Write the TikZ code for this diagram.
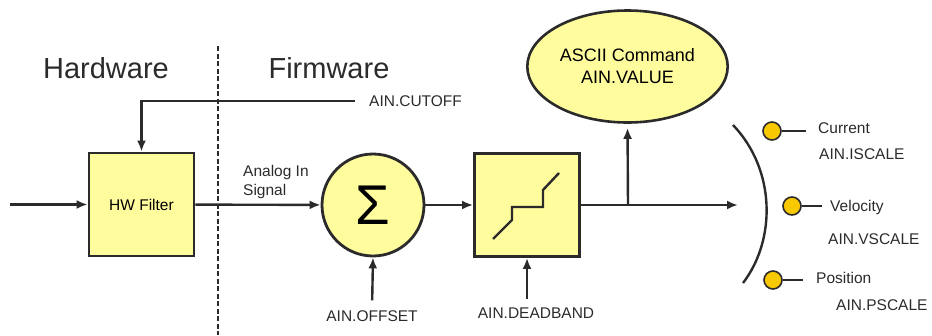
\documentclass[tikz,border=0pt]{standalone}
\usepackage{fontspec}
\setmainfont{Liberation Sans}
\usepackage{xcolor}
\usetikzlibrary{arrows.meta, positioning, calc, shapes.geometric}
\definecolor{boxfill}{HTML}{FFFC9E}
\definecolor{dotfill}{HTML}{F8C800}
\definecolor{linegray}{HTML}{2B2B2B}

\begin{document}
\begin{tikzpicture}[x=1pt, y=-1pt, line width=2.4pt, draw=linegray,
    >={Latex[length=11pt,width=9pt]},
    block/.style={rectangle, draw=linegray, fill=boxfill, line width=2.8pt,
        minimum width=105pt, minimum height=103pt, font=\fontsize{15.5}{18}\selectfont},
    sumnode/.style={circle, draw=linegray, fill=boxfill, line width=2.8pt,
        minimum size=102pt, inner sep=0pt},
    cmdnode/.style={ellipse, draw=linegray, fill=boxfill, line width=2.6pt,
        minimum width=180pt, minimum height=112pt, align=center,
        font=\fontsize{18}{22}\selectfont},
    lbl/.style={inner sep=0pt, text=linegray, font=\fontsize{15.5}{19}\selectfont},
    heading/.style={inner sep=0pt, text=linegray, font=\fontsize{29}{32}\selectfont},
    contact/.style={circle, draw=linegray, fill=dotfill, line width=1.6pt,
        minimum size=18pt, inner sep=0pt}]
    \useasboundingbox (0,0) rectangle (932,335);

    % hardware / firmware split
    \node[heading] (hwhead) at (106,68) {Hardware};
    \node[heading] (fwhead) at (329,68) {Firmware};
    \coordinate (divtop) at (218,46);
    \coordinate (divbot) at (218,335);
    \draw[line width=2.6pt, dash pattern=on 5pt off 2.5pt] (divtop) -- (divbot);

    % signal chain
    \coordinate (in) at (10,204.5);
    \node[block] (hwf) at (141.5,204.5) {HW Filter};
    \node[sumnode] (sum) at (373,205) {\fontsize{56}{56}\selectfont Σ};
    \node[block] (dead) at (527,205) {};
    \node[cmdnode] (ascii) at (627.5,66.5) {ASCII Command\\AIN.VALUE};
    \coordinate (tap) at (628,205);
    \coordinate (out) at (738,205);

    \draw[->] (in) -- (hwf);
    \draw[->] (hwf) -- (sum);
    \draw[->] (sum) -- (dead);
    \draw[->] (dead) -- (out);
    \draw[->, shorten >=4pt] (tap) -- (ascii.south);

    % deadband characteristic
    \draw[line width=2.4pt] ($(dead)+(-34,34)$) -- ($(dead)+(-15,15)$)
        -- ($(dead)+(-15,2)$) -- ($(dead)+(16,2)$) -- ($(dead)+(16,-15)$)
        -- ($(dead)+(32,-32)$);

    % parameters
    \node[lbl, anchor=west] (cutoff) at (368,101) {AIN.CUTOFF};
    \draw[->, shorten <=13pt] (cutoff.west) -| (hwf.north);
    \node[lbl, anchor=north west, align=left] (analog) at (242,164) {Analog In\\Signal};
    \node[lbl] (offset) at (372,316) {AIN.OFFSET};
    \draw[->, shorten <=9pt] (offset.north) -- (sum.south);
    \node[lbl] (deadband) at (536,313) {AIN.DEADBAND};
    \draw[->, shorten <=7pt] (deadband.north -| dead.south) -- (dead.south);

    % scaling selector
    \draw[line width=2.4pt] (733,125) .. controls (776,170) and (776,240) .. (743,283);

    \node[contact] (cur) at (772,131) {};
    \node[contact] (vel) at (792,206) {};
    \node[contact] (pos) at (773,280) {};
    \coordinate (curend) at (806,131);
    \coordinate (velend) at (822,206);
    \coordinate (posend) at (803,280);
    \draw (cur) -- (curend);
    \draw (vel) -- (velend);
    \draw (pos) -- (posend);

    \node[lbl, anchor=west] (curtxt) at (817,128) {Current};
    \node[lbl, anchor=west] (iscale) at (818,154) {AIN.ISCALE};
    \node[lbl, anchor=west] (veltxt) at (829,207) {Velocity};
    \node[lbl, anchor=west] (vscale) at (827,239) {AIN.VSCALE};
    \node[lbl, anchor=west] (postxt) at (815,278) {Position};
    \node[lbl, anchor=west] (pscale) at (835,305) {AIN.PSCALE};
\end{tikzpicture}
\end{document}
